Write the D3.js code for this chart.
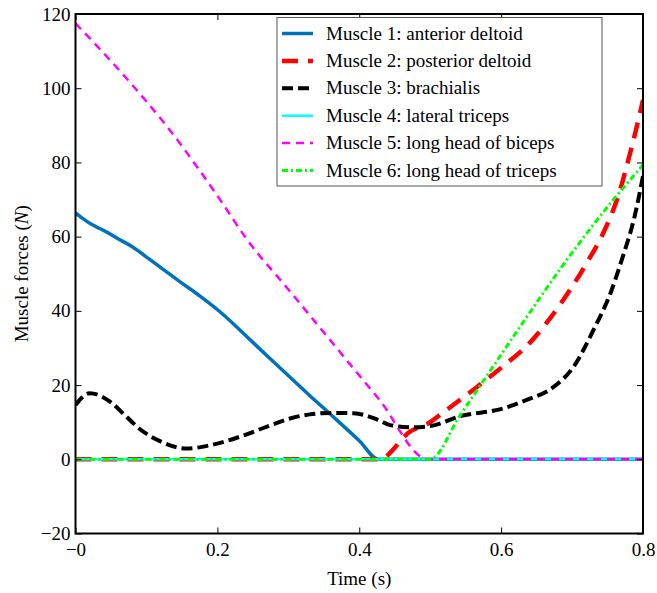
<!DOCTYPE html>
<html>
<head>
<meta charset="utf-8">
<script src="https://cdn.jsdelivr.net/npm/d3@7"></script>
<style>
  html, body { margin: 0; padding: 0; background: #fff; }
</style>
</head>
<body>
<div id="container"></div>
<script>
const WIDTH = 657;
const HEIGHT = 593;
const margin = { top: 14, right: 14, bottom: 59.5, left: 75.5 };
const FONT = 'Liberation Serif';
const FONT_SIZE = 19;

// Muscle forces (time in s, force in N)
const blueTime = [0, 0.01, 0.02, 0.034, 0.05, 0.063, 0.08, 0.091, 0.105, 0.125, 0.147, 0.176, 0.204, 0.25, 0.293, 0.33, 0.359, 0.4, 0.427, 0.8];
const blueForce = [66.4, 64.9, 63.6, 62.2, 60.6, 59.1, 57.3, 55.8, 53.8, 51.0, 47.9, 43.9, 39.7, 31.5, 23.8, 17.2, 12.2, 5.0, 0, 0];

const redTime = [0, 0.428, 0.472, 0.5, 0.514, 0.566, 0.599, 0.641, 0.669, 0.697, 0.721, 0.744, 0.766, 0.777, 0.791, 0.8];
const redForce = [0, 0, 7.5, 10, 12, 19.5, 24.5, 31.5, 38, 45.6, 53, 61, 71.5, 79, 89.5, 96.8];

const blackTime = [0, 0.02, 0.049, 0.07, 0.091, 0.119, 0.157, 0.19, 0.232, 0.27, 0.3025, 0.33, 0.359, 0.392, 0.427, 0.4436, 0.472, 0.5, 0.542, 0.603, 0.636, 0.674, 0.702, 0.73, 0.754, 0.773, 0.787, 0.8];
const blackForce = [14.6, 17.8, 15.5, 11.8, 8.1, 4.9, 2.9, 3.8, 6.1, 8.8, 11.0, 12.1, 12.5, 12.4, 10.6, 9.2, 8.6, 8.95, 11.6, 13.7, 16, 19.5, 24.9, 34.8, 44.7, 55.5, 64.5, 76.3];

const cyanTime = [0, 0.8];
const cyanForce = [0, 0];

const magentaTime = [0, 0.0675, 0.133, 0.204, 0.2415, 0.3, 0.35, 0.4, 0.427, 0.497, 0.8];
const magentaForce = [117.5, 103.6, 88.7, 69.9, 59.3, 45.8, 34.2, 22.6, 16.4, 0, 0];

const greenTime = [0, 0.5, 0.542, 0.594, 0.627, 0.683, 0.73, 0.761, 0.777, 0.8];
const greenForce = [0, 0, 11.8, 26.5, 35.8, 51.2, 63.2, 70.6, 74.2, 79.3];

const labels = [
  'Muscle 1: anterior deltoid',
  'Muscle 2: posterior deltoid',
  'Muscle 3: brachialis',
  'Muscle 4: lateral triceps',
  'Muscle 5: long head of biceps',
  'Muscle 6: long head of triceps'
];
const colors = ['#0072bd', '#ff0000', '#000000', '#00ffff', '#ff00ff', '#00ff00'];
const xTicks = [0, 0.2, 0.4, 0.6, 0.8];
const xTickLabels = ['\u22120', '0.2', '0.4', '0.6', '0.8'];
const yTicks = [-20, 0, 20, 40, 60, 80, 100, 120];

const series = [
  { time: blueTime, force: blueForce, width: 3.5, dash: null },
  { time: redTime, force: redForce, width: 4.5, dash: '16,10' },
  { time: blackTime, force: blackForce, width: 4, dash: '11,5' },
  { time: cyanTime, force: cyanForce, width: 2.5, dash: null },
  { time: magentaTime, force: magentaForce, width: 2.5, dash: '8,6' },
  { time: greenTime, force: greenForce, width: 3, dash: '6,3,2,3' }
];

const svg = d3.select('#container')
  .append('svg')
  .attr('width', WIDTH)
  .attr('height', HEIGHT);

const innerW = WIDTH - margin.left - margin.right;
const innerH = HEIGHT - margin.top - margin.bottom;

const x = d3.scaleLinear().domain([0, 0.8]).range([margin.left, margin.left + innerW]);
const y = d3.scaleLinear().domain([-20, 120]).range([margin.top + innerH, margin.top]);

svg.append('clipPath').attr('id', 'clip')
  .append('rect')
  .attr('x', margin.left).attr('y', margin.top)
  .attr('width', innerW).attr('height', innerH);

const plot = svg.append('g').attr('clip-path', 'url(#clip)');

const line = d3.line()
  .x(d => x(d[0]))
  .y(d => y(d[1]))
  .curve(d3.curveMonotoneX);

series.forEach((s, i) => {
  const pts = s.time.map((t, k) => [t, s.force[k]]);
  plot.append('path')
    .attr('d', line(pts))
    .attr('fill', 'none')
    .attr('stroke', colors[i])
    .attr('stroke-width', s.width)
    .attr('stroke-dasharray', s.dash);
});

// axes, ticks point inward on all four sides
svg.append('g')
  .attr('transform', `translate(0,${margin.top + innerH})`)
  .call(d3.axisBottom(x).tickValues(xTicks).tickSizeInner(-6).tickSizeOuter(0).tickPadding(9)
    .tickFormat((d, i) => xTickLabels[i]));
svg.append('g')
  .attr('transform', `translate(${margin.left},0)`)
  .call(d3.axisLeft(y).tickValues(yTicks).tickSizeInner(-6).tickSizeOuter(0).tickPadding(5)
    .tickFormat(d => d < 0 ? '\u2212' + Math.abs(d) : d));
svg.append('g')
  .attr('transform', `translate(0,${margin.top})`)
  .call(d3.axisTop(x).tickValues(xTicks).tickSizeInner(-6).tickSizeOuter(0).tickFormat(''));
svg.append('g')
  .attr('transform', `translate(${margin.left + innerW},0)`)
  .call(d3.axisRight(y).tickValues(yTicks).tickSizeInner(-6).tickSizeOuter(0).tickFormat(''));

svg.selectAll('.domain').remove();
svg.selectAll('.tick line').attr('stroke', '#000').attr('stroke-width', 1);
svg.selectAll('g').attr('font-family', FONT).attr('font-size', FONT_SIZE);
svg.selectAll('.tick text')
  .attr('font-family', FONT)
  .attr('font-size', FONT_SIZE)
  .attr('fill', '#000');

svg.append('rect')
  .attr('x', margin.left).attr('y', margin.top)
  .attr('width', innerW).attr('height', innerH)
  .attr('fill', 'none')
  .attr('stroke', '#000')
  .attr('stroke-width', 2);

// axis titles
svg.append('text')
  .attr('x', margin.left + innerW / 2)
  .attr('y', 585)
  .attr('text-anchor', 'middle')
  .attr('font-family', FONT)
  .attr('font-size', FONT_SIZE)
  .text('Time (s)');

const yTitle = svg.append('text')
  .attr('transform', `translate(28,${margin.top + innerH / 2}) rotate(-90)`)
  .attr('text-anchor', 'middle')
  .attr('font-family', FONT)
  .attr('font-size', FONT_SIZE);
yTitle.append('tspan').text('Muscle forces (');
yTitle.append('tspan').attr('font-style', 'italic').text('N');
yTitle.append('tspan').text(')');

// legend
const legend = svg.append('g');
legend.append('rect')
  .attr('x', 277).attr('y', 17.5)
  .attr('width', 325).attr('height', 168.5)
  .attr('fill', '#fff')
  .attr('stroke', '#555')
  .attr('stroke-width', 1);

labels.forEach((lab, i) => {
  const ly = 33.5 + i * 27.4;
  legend.append('line')
    .attr('x1', 282).attr('x2', 313)
    .attr('y1', ly).attr('y2', ly)
    .attr('stroke', colors[i])
    .attr('stroke-width', series[i].width)
    .attr('stroke-dasharray', series[i].dash);
  legend.append('text')
    .attr('x', 326).attr('y', ly + 6)
    .attr('font-family', FONT)
    .attr('font-size', FONT_SIZE)
    .text(lab);
});
</script>
</body>
</html>
